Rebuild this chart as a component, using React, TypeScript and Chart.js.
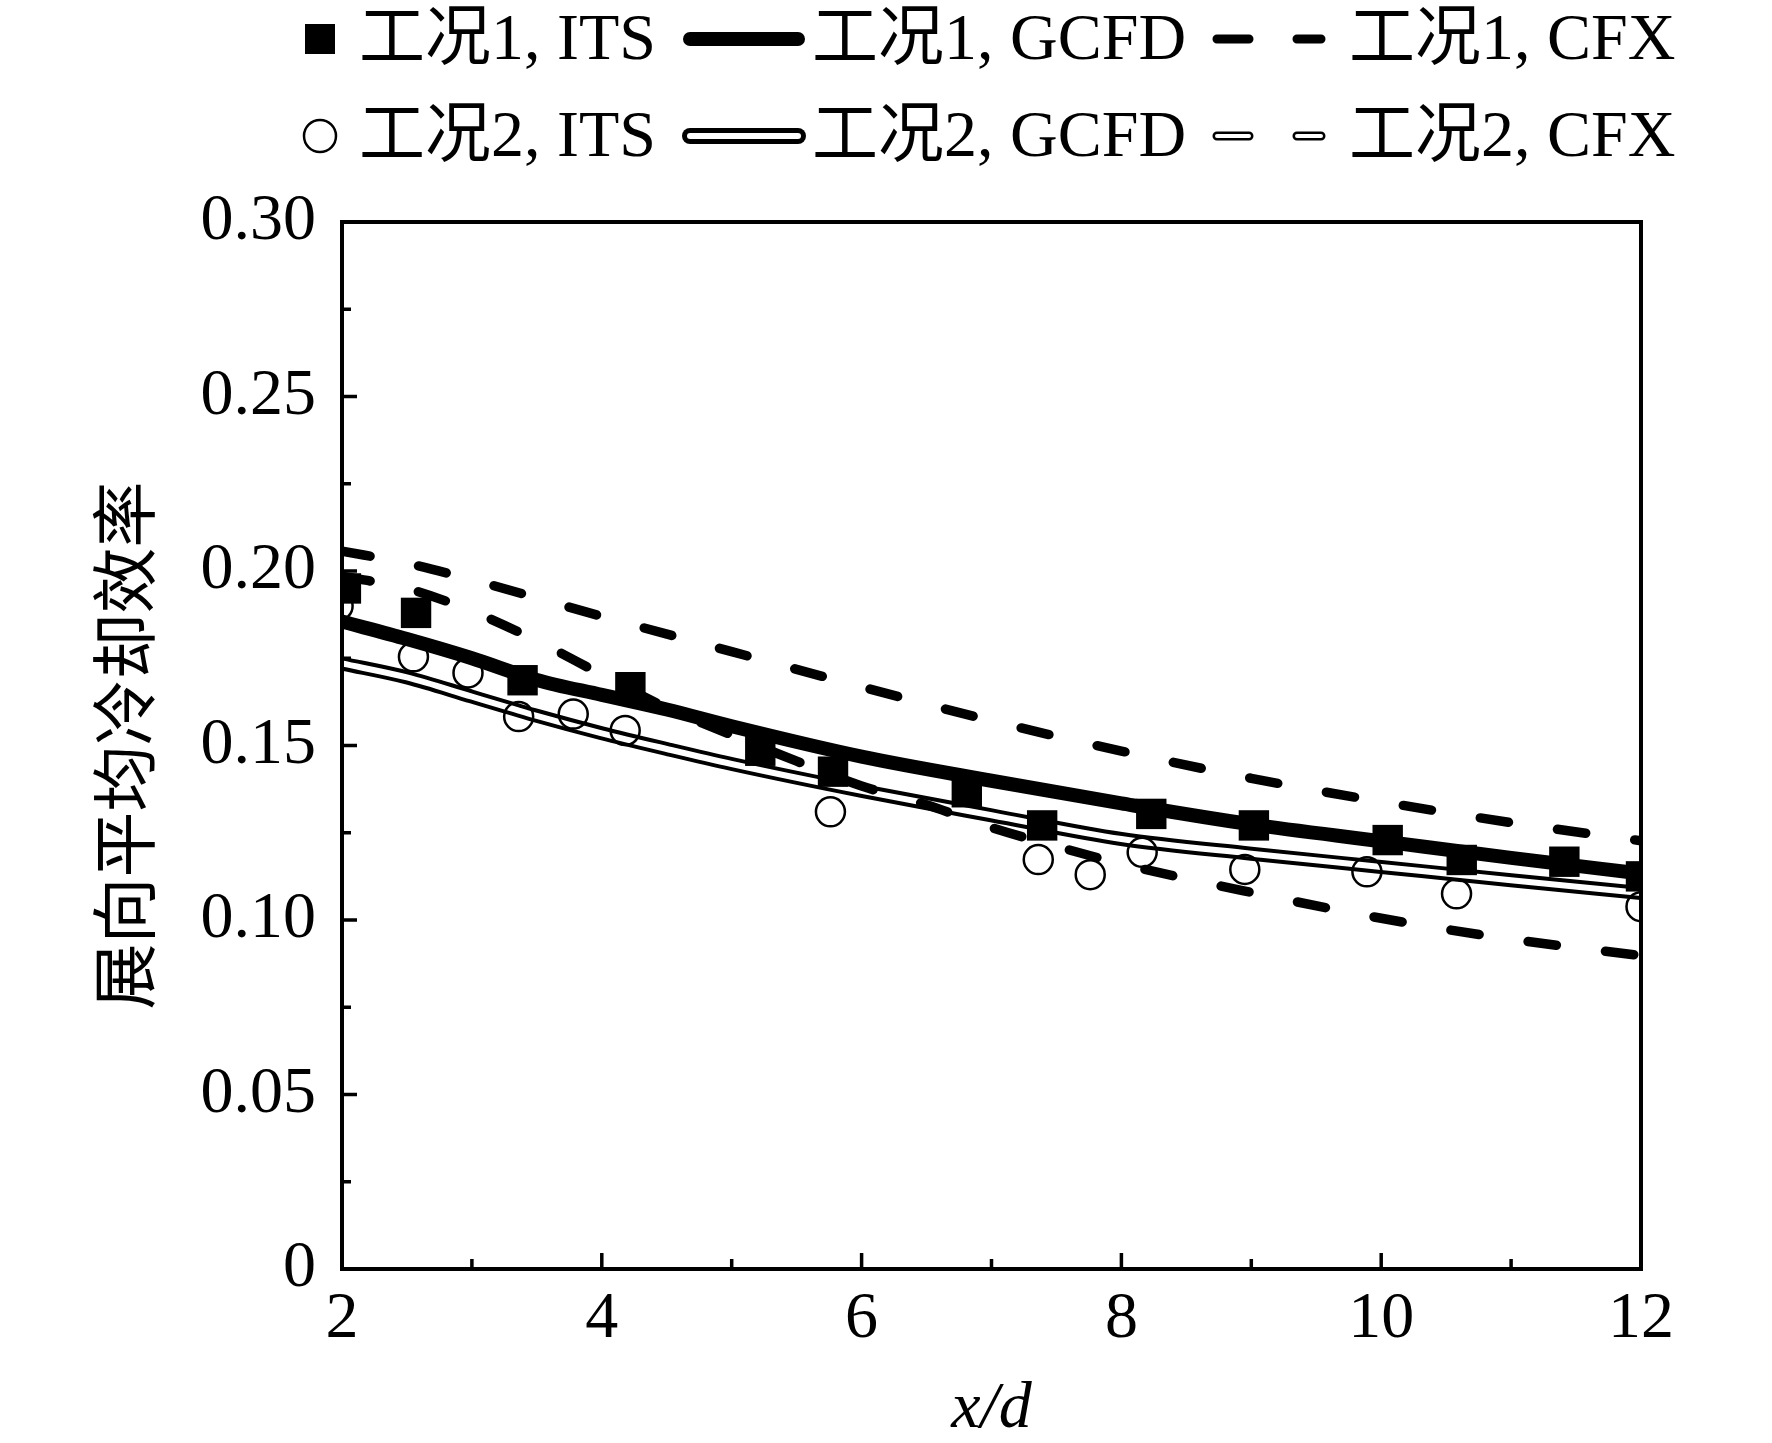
import { useEffect, useRef } from 'react';
import { Chart, registerables } from 'chart.js';

Chart.register(...registerables);

const FONT = "'Liberation Serif', 'Noto Sans CJK SC', serif";

// 工况1 / 工况2 experiment (ITS)
const itsX1 = [2.03, 2.57, 3.39, 4.22, 5.22, 5.78, 6.81, 7.39, 8.23, 9.02, 10.05, 10.62, 11.41, 12.0];
const itsY1 = [0.195, 0.188, 0.1687, 0.1667, 0.1485, 0.1425, 0.1366, 0.1271, 0.1304, 0.1271, 0.1229, 0.1172, 0.1167, 0.1125];
const itsX2 = [1.97, 2.55, 2.97, 3.36, 3.78, 4.18, 5.76, 7.36, 7.76, 8.16, 8.95, 9.89, 10.58, 12.0];
const itsY2 = [0.19, 0.1754, 0.1708, 0.1583, 0.159, 0.1543, 0.131, 0.1173, 0.113, 0.1194, 0.1145, 0.1138, 0.1075, 0.1038];

// GCFD
const gcfdX = [2, 2.5, 3, 3.5, 4, 4.5, 5, 6, 7, 8, 9, 10, 11, 12];
const gcfdY1 = [0.1855, 0.1805, 0.175, 0.1688, 0.1645, 0.1603, 0.1555, 0.1468, 0.1399, 0.1334, 0.1274, 0.1226, 0.1178, 0.1133];
const gcfdY2 = [0.1735, 0.1695, 0.164, 0.1585, 0.1535, 0.149, 0.1447, 0.137, 0.13, 0.1232, 0.119, 0.1152, 0.1114, 0.1077];

// CFX
const cfxX1 = [2, 2.5, 3, 4, 5, 6, 7, 8, 9, 10, 11, 12];
const cfxY1 = [0.2057, 0.2022, 0.1975, 0.187, 0.1769, 0.1668, 0.1571, 0.1484, 0.1406, 0.1339, 0.1279, 0.1227];
const cfxX2 = [2, 2.5, 3, 3.5, 4, 4.5, 5, 5.5, 6, 6.5, 7, 7.5, 8, 9, 10, 11, 12];
const cfxY2 = [0.1985, 0.195, 0.1885, 0.18, 0.1703, 0.1608, 0.153, 0.1455, 0.1384, 0.133, 0.1265, 0.1211, 0.1161, 0.1079, 0.1005, 0.0945, 0.0898];

const cases = ['工况1', '工况2'];
const methods = ['ITS', 'GCFD', 'CFX'];

const X_MIN = 2, X_MAX = 12, X_STEP = 2;
const Y_MIN = 0, Y_MAX = 0.3, Y_STEP = 0.05;

const DASH = [28.5, 49.5];

const pts = (xs: number[], ys: number[]) => xs.map((x, i) => ({ x, y: ys[i] }));

// frame + inward ticks
const framePlugin = {
  id: 'frame',
  afterDatasetsDraw(chart: any) {
    const { ctx, chartArea: a, scales } = chart;
    const xs = scales.x, ys = scales.y;
    ctx.save();
    ctx.strokeStyle = '#000';
    ctx.lineWidth = 3.5;
    ctx.beginPath();
    const ny = Math.round((Y_MAX - Y_MIN) / (Y_STEP / 2));
    for (let i = 0; i <= ny; i++) {
      const py = ys.getPixelForValue(Y_MIN + (i * Y_STEP) / 2);
      const len = i % 2 === 0 ? 15 : 9;
      ctx.moveTo(a.left, py);
      ctx.lineTo(a.left + len, py);
    }
    const nx = Math.round((X_MAX - X_MIN) / (X_STEP / 2));
    for (let i = 0; i <= nx; i++) {
      const px = xs.getPixelForValue(X_MIN + (i * X_STEP) / 2);
      const len = i % 2 === 0 ? 16 : 10;
      ctx.moveTo(px, a.bottom);
      ctx.lineTo(px, a.bottom - len);
    }
    ctx.stroke();
    ctx.lineWidth = 4;
    ctx.strokeRect(a.left, a.top, a.right - a.left, a.bottom - a.top);
    ctx.restore();
  },
};

// two-row legend above the plot
const legendPlugin = {
  id: 'caseLegend',
  afterDraw(chart: any) {
    const ctx = chart.ctx;
    ctx.save();
    ctx.font = `66px ${FONT}`;
    ctx.fillStyle = '#000';
    ctx.strokeStyle = '#000';
    ctx.textBaseline = 'alphabetic';
    const rowY = [39, 136];
    cases.forEach((c, r) => {
      const cy = rowY[r];
      // marker
      if (r === 0) {
        ctx.fillRect(305, cy - 15, 30, 30);
      } else {
        ctx.lineWidth = 2.5;
        ctx.beginPath();
        ctx.arc(320, cy, 16, 0, Math.PI * 2);
        ctx.stroke();
      }
      ctx.fillText(`${c}, ${methods[0]}`, 359, cy + 20);
      // solid sample
      ctx.lineCap = 'round';
      ctx.lineWidth = r === 0 ? 14 : 16;
      ctx.beginPath();
      ctx.moveTo(690, cy);
      ctx.lineTo(798, cy);
      ctx.stroke();
      if (r === 1) {
        ctx.strokeStyle = '#fff';
        ctx.lineWidth = 6;
        ctx.beginPath();
        ctx.moveTo(690, cy);
        ctx.lineTo(798, cy);
        ctx.stroke();
        ctx.strokeStyle = '#000';
      }
      ctx.fillText(`${c}, ${methods[1]}`, 812, cy + 20);
      // dashed sample
      ctx.setLineDash([32, 48]);
      ctx.lineWidth = 9;
      ctx.beginPath();
      ctx.moveTo(1217, cy);
      ctx.lineTo(1321, cy);
      ctx.stroke();
      if (r === 1) {
        ctx.strokeStyle = '#fff';
        ctx.lineWidth = 4;
        ctx.beginPath();
        ctx.moveTo(1217, cy);
        ctx.lineTo(1321, cy);
        ctx.stroke();
        ctx.strokeStyle = '#000';
      }
      ctx.setLineDash([]);
      ctx.fillText(`${c}, ${methods[2]}`, 1349, cy + 20);
    });
    ctx.restore();
  },
};

const App: React.FC = () => {
  const canvasRef = useRef<HTMLCanvasElement>(null);
  const chartRef = useRef<Chart | null>(null);

  useEffect(() => {
    document.body.style.margin = '0';
    if (!canvasRef.current) return;
    if (chartRef.current) chartRef.current.destroy();

    const lineBase = {
      pointRadius: 0,
      fill: false,
      clip: 0,
      cubicInterpolationMode: 'monotone' as const,
    };

    chartRef.current = new Chart(canvasRef.current, {
      type: 'line',
      data: {
        datasets: [
          {
            label: `${cases[0]}, ITS`,
            data: pts(itsX1, itsY1),
            showLine: false,
            pointStyle: 'rect',
            pointRadius: 21.5,
            pointBackgroundColor: '#000',
            pointBorderWidth: 0,
            clip: 0,
            order: 0,
          },
          {
            label: `${cases[1]}, ITS`,
            data: pts(itsX2, itsY2),
            showLine: false,
            pointStyle: 'circle',
            pointRadius: 14.5,
            pointBackgroundColor: 'rgba(0,0,0,0)',
            pointBorderColor: '#000',
            pointBorderWidth: 2.5,
            clip: 0,
            order: 1,
          },
          {
            ...lineBase,
            label: `${cases[0]}, CFX`,
            data: pts(cfxX1, cfxY1),
            borderColor: '#000',
            borderWidth: 9.5,
            borderDash: DASH,
            borderCapStyle: 'round',
            order: 2,
          },
          {
            ...lineBase,
            label: `${cases[1]}, CFX`,
            data: pts(cfxX2, cfxY2),
            borderColor: '#000',
            borderWidth: 9.5,
            borderDash: DASH,
            borderCapStyle: 'round',
            order: 3,
          },
          {
            ...lineBase,
            label: `${cases[0]}, GCFD`,
            data: pts(gcfdX, gcfdY1),
            borderColor: '#000',
            borderWidth: 14,
            order: 4,
          },
          {
            ...lineBase,
            label: `${cases[1]}, GCFD inner`,
            data: pts(gcfdX, gcfdY2),
            borderColor: '#fff',
            borderWidth: 6,
            order: 5,
          },
          {
            ...lineBase,
            label: `${cases[1]}, GCFD`,
            data: pts(gcfdX, gcfdY2),
            borderColor: '#000',
            borderWidth: 14,
            order: 6,
          },
        ],
      },
      options: {
        animation: false,
        responsive: false,
        maintainAspectRatio: false,
        devicePixelRatio: 1,
        events: [],
        layout: { padding: { left: 0, top: 222, right: 131, bottom: 0 } },
        plugins: {
          legend: { display: false },
          tooltip: { enabled: false },
        },
        scales: {
          x: {
            type: 'linear',
            min: X_MIN,
            max: X_MAX,
            grid: { display: false, drawTicks: false },
            border: { display: false },
            ticks: {
              stepSize: X_STEP,
              padding: 11,
              maxRotation: 0,
              color: '#000',
              font: { family: FONT, size: 66 },
              callback: (v: any) => String(v),
            },
            title: {
              display: true,
              text: 'x/d',
              color: '#000',
              padding: 0,
              font: { family: FONT, size: 66, style: 'italic', lineHeight: 1 },
            },
            afterFit: (s: any) => {
              s.height = 174;
            },
          },
          y: {
            type: 'linear',
            min: Y_MIN,
            max: Y_MAX,
            grid: { display: false, drawTicks: false },
            border: { display: false },
            ticks: {
              stepSize: Y_STEP,
              padding: 26,
              color: '#000',
              font: { family: FONT, size: 66 },
              callback: (v: any) => (Number(v) === 0 ? '0' : Number(v).toFixed(2)),
            },
            title: {
              display: true,
              text: '展向平均冷却效率',
              color: '#000',
              padding: { top: 99, bottom: 0 },
              font: { family: FONT, size: 66, lineHeight: 1 },
            },
            afterFit: (s: any) => {
              s.width = 342;
            },
          },
        },
      },
      plugins: [framePlugin, legendPlugin],
    });

    return () => {
      chartRef.current?.destroy();
      chartRef.current = null;
    };
  }, []);

  return (
    <div style={{ width: 1772, height: 1443, background: '#fff' }}>
      <canvas ref={canvasRef} width={1772} height={1443} style={{ display: 'block' }} />
    </div>
  );
};

export default App;
